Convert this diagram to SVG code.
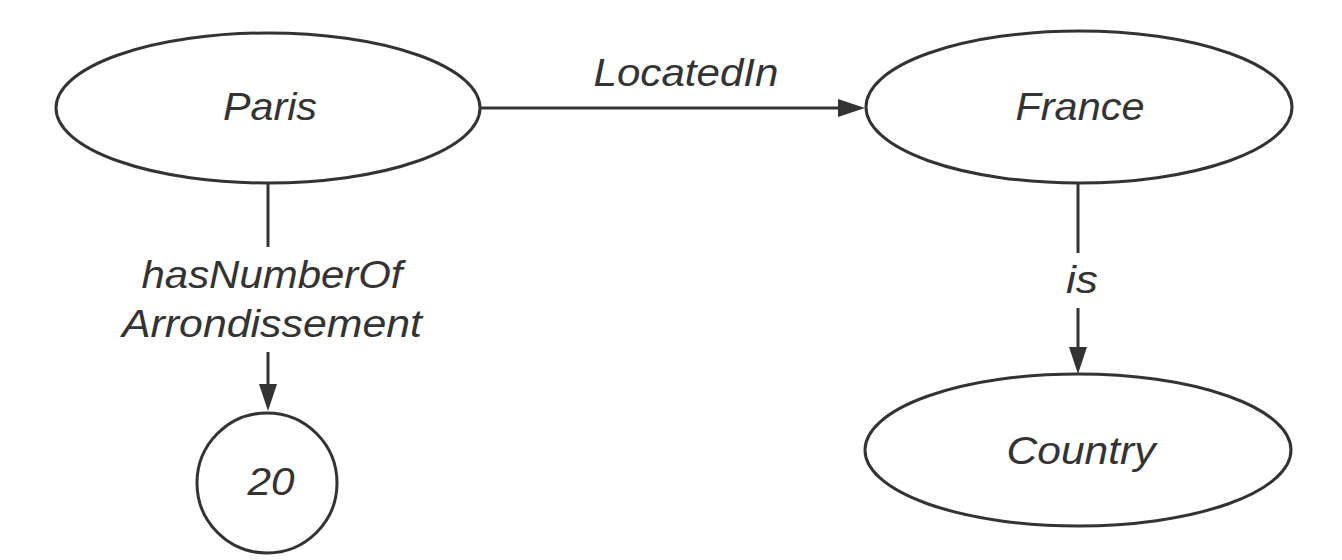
<svg xmlns="http://www.w3.org/2000/svg" width="1342" height="560" viewBox="0 0 1342 560">
<style>
.node{fill:#ffffff;stroke:#333333;stroke-width:3}
.edge{fill:none;stroke:#333333;stroke-width:3}
.t{font-family:"Liberation Sans",Arial,sans-serif;font-style:italic;font-size:38px;fill:#333333;text-anchor:middle}
</style>
<defs>
<marker id="arrow" markerUnits="userSpaceOnUse" markerWidth="28" markerHeight="18" refX="0" refY="9" orient="auto">
<path d="M0,0 L27,9 L0,18 z" fill="#333333"/>
</marker>
</defs>
<rect width="1342" height="560" fill="#ffffff"/>
<g id="connectors">
<g id="e-locatedin">
<line class="edge" x1="480" y1="108" x2="838" y2="108" marker-end="url(#arrow)"/>
<text class="t" x="686" y="86" textLength="185" lengthAdjust="spacingAndGlyphs">LocatedIn</text>
</g>
<g id="e-hasnumber">
<line class="edge" x1="268" y1="183" x2="268" y2="247"/>
<line class="edge" x1="268" y1="352" x2="268" y2="384" marker-end="url(#arrow)"/>
<text class="t" x="272" y="288" textLength="261" lengthAdjust="spacingAndGlyphs">hasNumberOf</text>
<text class="t" x="272" y="337" textLength="300" lengthAdjust="spacingAndGlyphs">Arrondissement</text>
</g>
<g id="e-is">
<line class="edge" x1="1078" y1="183" x2="1078" y2="253"/>
<line class="edge" x1="1078" y1="308" x2="1078" y2="347" marker-end="url(#arrow)"/>
<text class="t" x="1082" y="293" textLength="32" lengthAdjust="spacingAndGlyphs">is</text>
</g>
</g>
<g id="n-paris">
<ellipse class="node" cx="268" cy="108" rx="212" ry="75"/>
<text class="t" x="270" y="120" textLength="94" lengthAdjust="spacingAndGlyphs">Paris</text>
</g>
<g id="n-france">
<ellipse class="node" cx="1079" cy="107" rx="213" ry="76"/>
<text class="t" x="1080" y="120" textLength="129" lengthAdjust="spacingAndGlyphs">France</text>
</g>
<g id="n-country">
<ellipse class="node" cx="1078" cy="450" rx="213" ry="76"/>
<text class="t" x="1081" y="464" textLength="149" lengthAdjust="spacingAndGlyphs">Country</text>
</g>
<g id="n-20">
<circle class="node" cx="267" cy="483" r="70"/>
<text class="t" x="271" y="495" textLength="47" lengthAdjust="spacingAndGlyphs">20</text>
</g>
</svg>
